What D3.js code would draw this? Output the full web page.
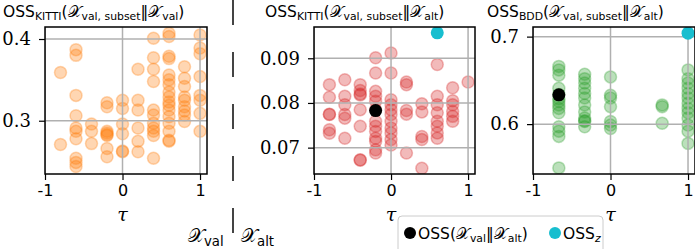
<!DOCTYPE html>
<html>
<head>
<meta charset="utf-8">
<script src="https://cdn.jsdelivr.net/npm/d3@7"></script>
<style>
  body { margin: 0; background: #fff; }
  svg { display: block; }
</style>
</head>
<body>
<div id="chart"></div>
<script>
// tau steps per panel
const tauKitti = [-0.8, -0.6, -0.4, -0.2, 0, 0.2, 0.4, 0.6, 0.8, 1.0];
const tauBdd = [-2 / 3, -1 / 3, 0, 2 / 3, 1];

// OSS_KITTI(X_val,subset || X_val), one list per tau
const ossKittiVal = [
  [0.359, 0.271],
  [0.387, 0.380, 0.331, 0.306, 0.291, 0.287, 0.278, 0.254, 0.249, 0.244],
  [0.296, 0.287, 0.272],
  [0.322, 0.317, 0.287, 0.285, 0.283, 0.282, 0.266, 0.256],
  [0.325, 0.315, 0.296, 0.284, 0.263, 0.262],
  [0.363, 0.325, 0.313, 0.291, 0.275, 0.262],
  [0.401, 0.377, 0.363, 0.348, 0.313, 0.307, 0.297, 0.291, 0.287, 0.282, 0.254],
  [0.407, 0.403, 0.379, 0.376, 0.356, 0.350, 0.344, 0.335, 0.329, 0.323, 0.319, 0.313, 0.305, 0.297, 0.287, 0.276, 0.275],
  [0.366, 0.352, 0.342, 0.329, 0.325, 0.317, 0.312, 0.307, 0.299],
  [0.405, 0.389, 0.382, 0.354, 0.331, 0.325, 0.309, 0.287]
];

// OSS_KITTI(X_val,subset || X_alt)
const ossKittiAlt = [
  [0.0841, 0.0813, 0.0775, 0.0774, 0.0740, 0.0732],
  [0.0852, 0.0815, 0.0796, 0.0774, 0.0766, 0.0721],
  [0.0841, 0.0828, 0.0820, 0.0818, 0.0785, 0.0748, 0.0673, 0.0672],
  [0.0901, 0.0867, 0.0826, 0.0815, 0.0804, 0.0785, 0.0759, 0.0748, 0.0736, 0.0721, 0.0714, 0.0695, 0.0688],
  [0.0912, 0.0867, 0.0807, 0.0796, 0.0785, 0.0774, 0.0759, 0.0744, 0.0733, 0.0718, 0.0706],
  [0.0847, 0.0841, 0.0783, 0.0775, 0.0688],
  [0.0798, 0.0780, 0.0725, 0.0718, 0.0654],
  [0.0886, 0.0815, 0.0796, 0.0778, 0.0759, 0.0748, 0.0733, 0.0721],
  [0.0834, 0.0805, 0.0796, 0.0781, 0.0770, 0.0759],
  [0.0847]
];

// OSS_BDD(X_val,subset || X_alt)
const ossBddAlt = [
  [0.666, 0.662, 0.656, 0.641, 0.634, 0.629, 0.626, 0.622, 0.618, 0.613, 0.597, 0.592, 0.586, 0.550],
  [0.657, 0.652, 0.647, 0.641, 0.635, 0.630, 0.622, 0.614, 0.607, 0.604, 0.603, 0.597],
  [0.654, 0.633, 0.630, 0.620, 0.603, 0.599, 0.595],
  [0.622, 0.620, 0.601],
  [0.662, 0.652, 0.647, 0.641, 0.635, 0.630, 0.624, 0.618, 0.613, 0.607, 0.599, 0.592, 0.578]
];

// reference markers [tau, value]
const ossFullKitti = [-0.2, 0.0783];
const ossZKitti = [0.6, 0.0957];
const ossFullBdd = [-2 / 3, 0.6335];
const ossZBdd = [1, 0.704];

const yTicks1 = [0.3, 0.4];
const yTicks2 = [0.07, 0.08, 0.09];
const yTicks3 = [0.6, 0.7];
const xTicks = [-1, 0, 1];

const width = 695, height = 249;
const plotTop = 27, plotBottom = 174;
const sans = "DejaVu Sans", serif = "DejaVu Serif";
const calX = "\u{1D4B3}";

const svg = d3.select("#chart").append("svg")
  .attr("width", width)
  .attr("height", height);

// writes a mixed text: parts are [text, "sub"|"base"|"cal", italic]
function richText(sel, x, y, parts, size, anchor) {
  const t = sel.append("text")
    .attr("x", x).attr("y", y)
    .attr("font-family", sans)
    .attr("font-size", size)
    .attr("text-anchor", anchor || "start")
    .attr("fill", "#000");
  let shifted = false;
  parts.forEach(p => {
    const ts = t.append("tspan").text(p[0]);
    if (p[1] === "sub") {
      ts.attr("font-size", size * 0.7).attr("dy", shifted ? 0 : size * 0.22);
      shifted = true;
    } else {
      ts.attr("dy", shifted ? -size * 0.22 : 0);
      shifted = false;
      if (p[1] === "cal") ts.attr("font-family", "serif");
    }
    if (p[2]) ts.attr("font-style", "italic");
  });
  return t;
}

const panels = [
  { left: 45, right: 207, ydom: [0.2348, 0.4147], yTicks: yTicks1, fmt: ".1f",
    taus: tauKitti, vals: ossKittiVal, color: "#ff7f0e", full: null, z: null,
    title: [["OSS"], ["KITTI", "sub"], ["("], [calX, "cal"], ["val, subset", "sub"], ["\u2016"], [calX, "cal"], ["val", "sub"], [")"]], titleX: 3 },
  { left: 314, right: 475, ydom: [0.0641, 0.0970], yTicks: yTicks2, fmt: ".2f",
    taus: tauKitti, vals: ossKittiAlt, color: "#d62728", full: ossFullKitti, z: ossZKitti,
    title: [["OSS"], ["KITTI", "sub"], ["("], [calX, "cal"], ["val, subset", "sub"], ["\u2016"], [calX, "cal"], ["alt", "sub"], [")"]], titleX: 265 },
  { left: 533, right: 695, ydom: [0.543, 0.711], yTicks: yTicks3, fmt: ".1f",
    taus: tauBdd, vals: ossBddAlt, color: "#2ca02c", full: ossFullBdd, z: ossZBdd,
    title: [["OSS"], ["BDD", "sub"], ["("], [calX, "cal"], ["val, subset", "sub"], ["\u2016"], [calX, "cal"], ["alt", "sub"], [")"]], titleX: 487 }
];

panels.forEach((p, i) => {
  const x = d3.scaleLinear().domain([-1, 1.09]).range([p.left, p.right]);
  const y = d3.scaleLinear().domain(p.ydom).range([plotBottom, plotTop]);
  const w = p.right - p.left;

  svg.append("clipPath").attr("id", "clip" + i)
    .append("rect").attr("x", p.left).attr("y", plotTop)
    .attr("width", w).attr("height", plotBottom - plotTop);

  const plot = svg.append("g").attr("clip-path", `url(#clip${i})`);

  const pts = [];
  p.taus.forEach((t, j) => p.vals[j].forEach(v => pts.push([t, v])));

  plot.selectAll("circle.pt")
    .data(pts)
    .join("circle")
    .attr("class", "pt")
    .attr("cx", d => x(d[0]))
    .attr("cy", d => y(d[1]))
    .attr("r", 6)
    .attr("fill", p.color)
    .attr("fill-opacity", 0.32)
    .attr("stroke", p.color)
    .attr("stroke-opacity", 0.32)
    .attr("stroke-width", 1.5);

  // grid
  const grid = plot.append("g");
  grid.selectAll("line.gx").data(xTicks).join("line")
    .attr("x1", d => x(d)).attr("x2", d => x(d))
    .attr("y1", plotTop).attr("y2", plotBottom);
  grid.selectAll("line.gy").data(p.yTicks).join("line")
    .attr("x1", p.left).attr("x2", p.right)
    .attr("y1", d => y(d)).attr("y2", d => y(d));
  grid.selectAll("line").attr("stroke", "#b0b0b0").attr("stroke-width", 1.5);

  if (p.full) {
    plot.append("circle").attr("cx", x(p.full[0])).attr("cy", y(p.full[1]))
      .attr("r", 6.5).attr("fill", "#000");
    plot.append("circle").attr("cx", x(p.z[0])).attr("cy", y(p.z[1]))
      .attr("r", 6.5).attr("fill", "#17becf");
  }

  // axes
  const ax = svg.append("g").attr("transform", `translate(0,${plotBottom})`)
    .call(d3.axisBottom(x).tickValues(xTicks).tickSize(6).tickPadding(5)
      .tickFormat(d => d < 0 ? "-" + Math.abs(d) : String(d)));
  ax.select(".domain").remove();
  ax.selectAll("text").attr("font-family", sans).attr("font-size", 16).attr("fill", "#000");
  ax.selectAll("line").attr("stroke", "#000").attr("stroke-width", 1.2);

  const ay = svg.append("g").attr("transform", `translate(${p.left},0)`)
    .call(d3.axisLeft(y).tickValues(p.yTicks).tickSize(6).tickPadding(8)
      .tickFormat(d3.format(p.fmt)));
  ay.select(".domain").remove();
  ay.selectAll("text").attr("font-family", serif).attr("font-size", 18).attr("fill", "#000");
  ay.selectAll("line").attr("stroke", "#000").attr("stroke-width", 1.2);

  // frame
  svg.append("rect").attr("x", p.left).attr("y", plotTop)
    .attr("width", w).attr("height", plotBottom - plotTop)
    .attr("fill", "none").attr("stroke", "#000").attr("stroke-width", 1.5);

  // x label
  svg.append("text").attr("x", x(0)).attr("y", 221)
    .attr("text-anchor", "middle")
    .attr("font-family", serif).attr("font-style", "italic")
    .attr("font-size", 19).text("\u03C4");

  richText(svg, p.titleX, 17, p.title, 15.5);
});

// dataset separator
svg.append("line")
  .attr("x1", 233).attr("x2", 233)
  .attr("y1", 0).attr("y2", height)
  .attr("stroke", "#444").attr("stroke-width", 2)
  .attr("stroke-dasharray", "25,27");

richText(svg, 188, 242, [[calX, "cal"], ["val", "sub"]], 19);
richText(svg, 241, 242, [[calX, "cal"], ["alt", "sub"]], 19);

// legend
const lg = svg.append("g");
lg.append("rect").attr("x", 398).attr("y", 216).attr("width", 205).attr("height", 40)
  .attr("rx", 4).attr("fill", "#fff").attr("fill-opacity", 0.8)
  .attr("stroke", "#ccc").attr("stroke-width", 1);
lg.append("circle").attr("cx", 410).attr("cy", 233).attr("r", 6).attr("fill", "#000");
richText(lg, 418, 239, [["OSS("], [calX, "cal"], ["val", "sub"], ["\u2016"], [calX, "cal"], ["alt", "sub"], [")"]], 15.5);
lg.append("circle").attr("cx", 555).attr("cy", 233).attr("r", 6).attr("fill", "#17becf");
richText(lg, 563, 239, [["OSS"], ["z", "sub", true]], 15.5);
</script>
</body>
</html>
